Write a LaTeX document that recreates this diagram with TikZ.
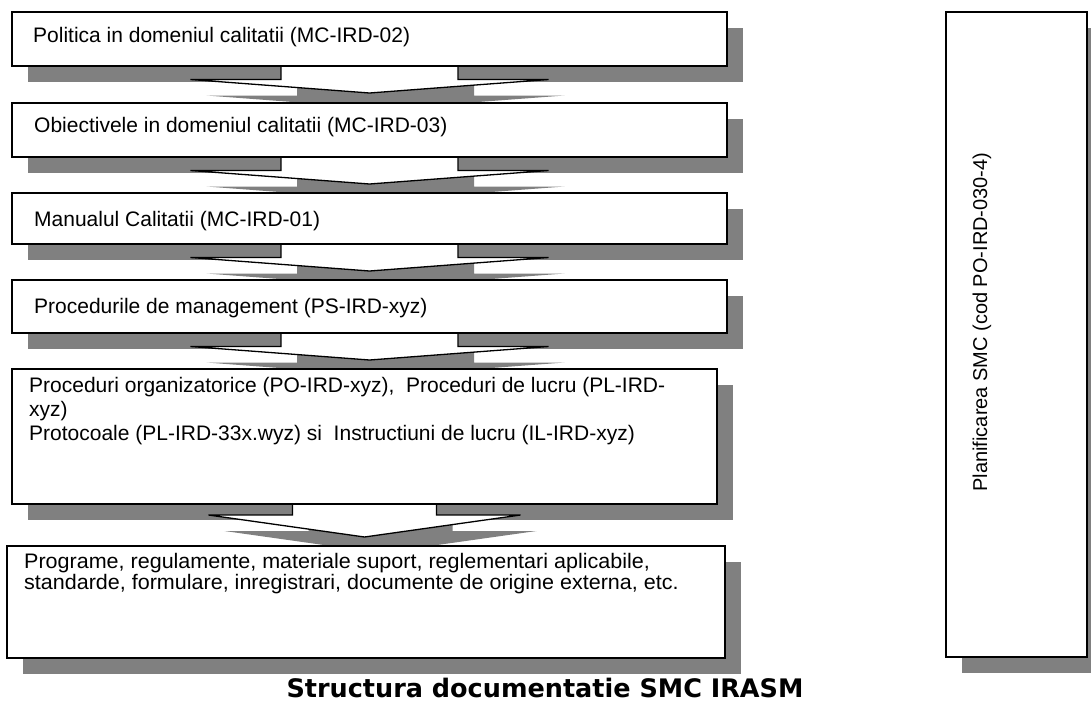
\documentclass[tikz,border=0pt]{standalone}
\usepackage{fontspec}
\setmainfont{Liberation Sans}
\newfontfamily\titlefont{DejaVu Sans}
\usetikzlibrary{calc}
\definecolor{shadowgray}{HTML}{808080}
\pgfdeclarelayer{bg}
\pgfdeclarelayer{mid}
\pgfsetlayers{bg,mid,main}
% block arrow outline below node #1: stem half width #2, wing half width #3,
% wing drop #4, tip drop #5, offset #6
\newcommand\arrowpath[6]{%
  ($(#1.south)+(-#2+#6,-8+#6)$) -- ($(#1.south)+(-#2+#6,#4+#6)$) --
  ($(#1.south)+(-#3+#6,#4+#6)$) -- ($(#1.south)+(#6,#5+#6)$) --
  ($(#1.south)+(#3+#6,#4+#6)$) -- ($(#1.south)+(#2+#6,#4+#6)$) --
  ($(#1.south)+(#2+#6,-8+#6)$) -- cycle}
\newcommand\blockarrow[5]{%
  \begin{pgfonlayer}{bg}\fill[shadowgray] \arrowpath{#1}{#2}{#3}{#4}{#5}{16};\end{pgfonlayer}
  \begin{pgfonlayer}{mid}\draw[arrowshape] \arrowpath{#1}{#2}{#3}{#4}{#5}{0};\end{pgfonlayer}}
\newcommand\boxshadow[1]{%
  \begin{pgfonlayer}{bg}\fill[shadowgray] ($(#1.north west)+(16,16)$) rectangle ($(#1.south east)+(16,16)$);\end{pgfonlayer}}
\tikzset{
  boxshape/.style={draw=black, line width=1.3pt, fill=white, rectangle, inner sep=0pt, outer sep=0pt, anchor=north west},
  arrowshape/.style={draw=black, line width=1.3pt, fill=white, line join=miter},
  lbl/.style={anchor=base west, inner sep=0pt, font=\fontsize{21}{24}\selectfont},
}
\begin{document}
\begin{tikzpicture}[x=1pt,y=-1pt]
\begin{pgfonlayer}{bg}\fill[white] (0,0) rectangle (1091,704);\end{pgfonlayer}
\useasboundingbox (0,0) rectangle (1091,704);
% boxes
\node[boxshape, minimum width=715pt, minimum height=54pt] (b1) at (12,12) {};
\node[boxshape, minimum width=715pt, minimum height=54pt] (b2) at (12,103) {};
\node[boxshape, minimum width=715pt, minimum height=51pt] (b3) at (12,193) {};
\node[boxshape, minimum width=715pt, minimum height=53pt] (b4) at (12,280) {};
\node[boxshape, minimum width=705pt, minimum height=135pt] (b5) at (12,369) {};
\node[boxshape, minimum width=718pt, minimum height=112pt] (b6) at (7,546) {};
\node[boxshape, minimum width=141pt, minimum height=645pt] (pl) at (946,12) {};
\boxshadow{b1}\boxshadow{b2}\boxshadow{b3}\boxshadow{b4}\boxshadow{b5}\boxshadow{b6}\boxshadow{pl}
% arrows
\blockarrow{b1}{88.5}{179}{13.5}{27}
\blockarrow{b2}{88.5}{179}{13.5}{27}
\blockarrow{b3}{88.5}{179}{13.5}{27}
\blockarrow{b4}{88.5}{179}{13.5}{27}
\blockarrow{b5}{72}{156}{11}{33}
% texts
\node[lbl] (t1) at (33,42) {Politica in domeniul calitatii (MC-IRD-02)};
\node[lbl] (t2) at (34,132) {Obiectivele in domeniul calitatii (MC-IRD-03)};
\node[lbl] (t3) at (34,226) {Manualul Calitatii (MC-IRD-01)};
\node[lbl] (t4) at (34,313) {Procedurile de management (PS-IRD-xyz)};
\node[lbl] (t5a) at (29,392) {Proceduri organizatorice (PO-IRD-xyz),\ \ Proceduri de lucru (PL-IRD-};
\node[lbl] (t5b) at (29,416) {xyz)};
\node[lbl] (t5c) at (29,440) {Protocoale (PL-IRD-33x.wyz) si\ \ Instructiuni de lucru (IL-IRD-xyz)};
\node[lbl, xscale=1.025] (t6a) at (24,568) {Programe, regulamente, materiale suport, reglementari aplicabile,};
\node[lbl, xscale=1.025] (t6b) at (24,589) {standarde, formulare, inregistrari, documente de origine externa, etc.};
\node[inner sep=0pt, rotate=90, font=\fontsize{20}{24}\selectfont] (plt) at (982,322) {Planificarea SMC (cod PO-IRD-030-4)};
\node[inner sep=0pt, anchor=base, font=\titlefont\bfseries\fontsize{25.5}{28}\selectfont] (title) at (545,697) {Structura documentatie SMC IRASM};
\end{tikzpicture}
\end{document}
